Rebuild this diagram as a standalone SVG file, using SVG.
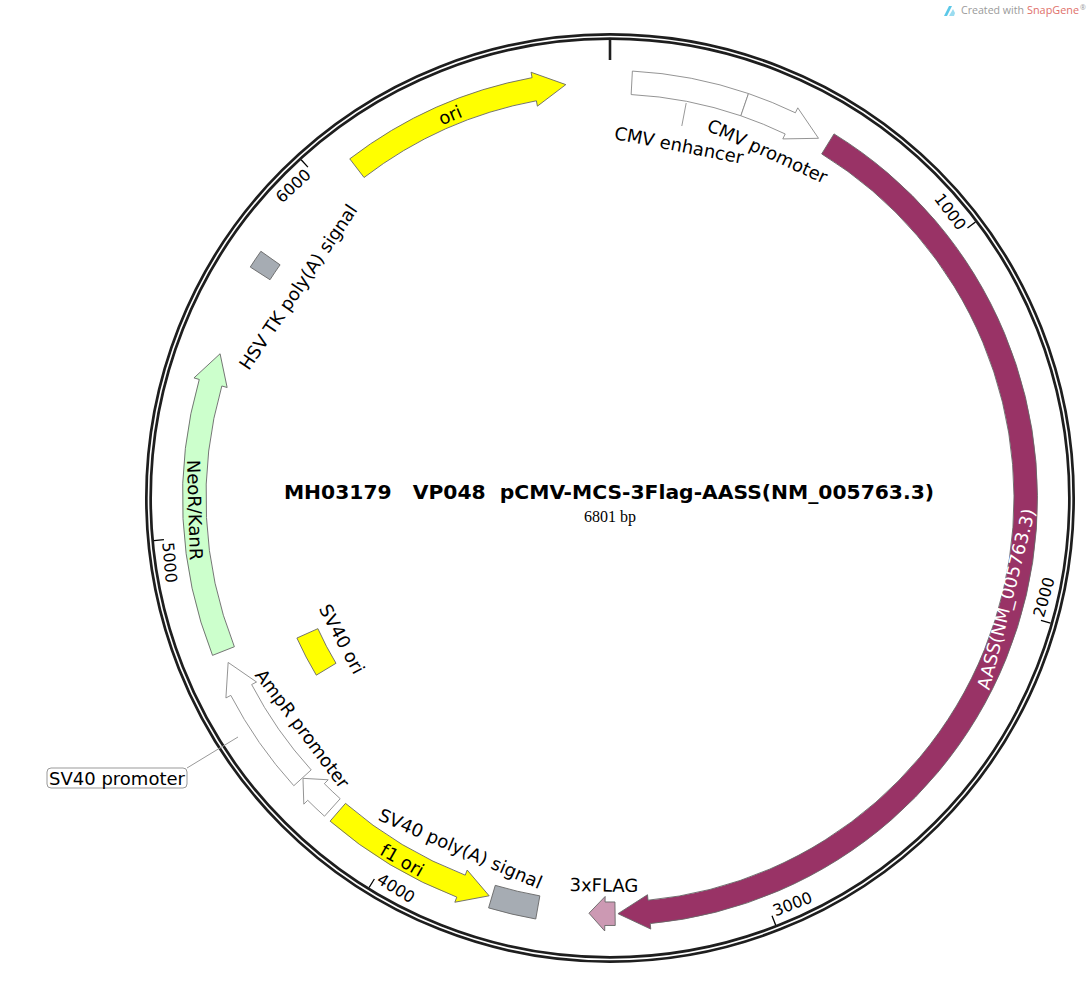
<svg xmlns="http://www.w3.org/2000/svg" width="1088" height="996" viewBox="0 0 1088 996">
<style>
.lbl{font-family:"DejaVu Sans","Liberation Sans",sans-serif;font-size:18px;fill:#000;}
.tk{font-family:"DejaVu Sans","Liberation Sans",sans-serif;font-size:16px;fill:#000;}
.wm{font-family:"Open Sans","DejaVu Sans",sans-serif;font-size:10.5px;}
.feat{stroke:#666;stroke-width:0.9;stroke-linejoin:miter;}
.white{fill:#fff;stroke:#888;stroke-width:0.9;}
.yellow{fill:#ffff00;}
.tick{stroke:#000;stroke-width:1.3;}
.lead{stroke:#999;stroke-width:1;fill:none;}
</style>
<rect width="1088" height="996" fill="#fff"/>

<g id="watermark">
<path d="M944,16 L949,6 L952,6 L947,16 Z" fill="#5bc8e8"/>
<path d="M949,16 L953,9 L955,13 L954,16 Z" fill="#9adcf0"/>
<text class="wm" x="961" y="14" textLength="63" lengthAdjust="spacingAndGlyphs" fill="#9a9a9a">Created with</text>
<text class="wm" x="1027" y="14" textLength="52" lengthAdjust="spacingAndGlyphs" fill="#e0706a">SnapGene</text>
<text class="wm" x="1080" y="10" font-size="7" fill="#9a9a9a" style="font-size:7px">®</text>
</g>

<g id="backbone">
<circle cx="610" cy="498" r="461.5" fill="none" stroke="#1e1e1e" stroke-width="7"/>
<circle cx="610" cy="498" r="461.5" fill="none" stroke="#fff" stroke-width="1.6"/>
<line x1="610" y1="40" x2="610" y2="60" stroke="#1e1e1e" stroke-width="2.6"/>
</g>

<g id="ticks">
<line class="tick" x1="975.46" y1="221.94" x2="967.48" y2="227.97"/>
<text class="tk" transform="translate(967.48,227.97) rotate(52.93)" x="-3" y="4" text-anchor="end" dominant-baseline="central">1000</text>
<line class="tick" x1="1050.55" y1="623.22" x2="1040.93" y2="620.48"/>
<text class="tk" transform="translate(1040.93,620.48) rotate(-74.13)" x="3" y="-3.5" dominant-baseline="central">2000</text>
<line class="tick" x1="775.62" y1="925.00" x2="772.01" y2="915.68"/>
<text class="tk" transform="translate(772.01,915.68) rotate(-21.2)" x="3" y="-3.5" dominant-baseline="central">3000</text>
<line class="tick" x1="369.11" y1="887.53" x2="374.37" y2="879.03"/>
<text class="tk" transform="translate(374.37,879.03) rotate(31.73)" x="3" y="-3.5" dominant-baseline="central">4000</text>
<line class="tick" x1="153.98" y1="540.57" x2="163.94" y2="539.64"/>
<text class="tk" transform="translate(163.94,539.64) rotate(84.67)" x="3" y="-3.5" dominant-baseline="central">5000</text>
<line class="tick" x1="301.17" y1="159.79" x2="307.91" y2="167.17"/>
<text class="tk" transform="translate(307.91,167.17) rotate(-42.4)" x="-3" y="4" text-anchor="end" dominant-baseline="central">6000</text>
</g>

<g id="connectors">
<line class="lead" x1="686.2" y1="103" x2="681.8" y2="126"/>
<line class="lead" x1="187" y1="768" x2="238" y2="737"/>
</g>

<g id="cmv-enhancer">
<path class="white" d="M632.38,71.09 A427.5,427.5 0 0 1 748.48,93.55 L740.86,115.78 A404,404 0 0 0 631.15,94.55 Z"/>
<text class="lbl" transform="translate(679,145) rotate(11)" text-anchor="middle" dominant-baseline="central">CMV enhancer</text>
</g>

<g id="cmv-promoter">
<path class="white" d="M748.48,93.55 A427.5,427.5 0 0 1 795.39,112.79 L797.77,107.83 L818.50,138.31 L782.81,138.92 L785.20,133.96 A404,404 0 0 0 740.86,115.78 Z"/>
<text class="lbl" transform="translate(767.5,151) rotate(24.5)" text-anchor="middle" dominant-baseline="central">CMV promoter</text>
</g>

<g id="aass">
<path class="feat" fill="#993366" stroke="#5a2040" d="M834.01,133.89 A427.5,427.5 0 0 1 650.23,923.60 L650.75,929.08 L617.98,913.68 L647.50,894.73 L648.02,900.21 A404,404 0 0 0 821.69,153.90 Z"/>
<text class="lbl" style="fill:#fff" transform="translate(1006,599) rotate(-75.7)" text-anchor="middle" dominant-baseline="central">AASS(NM_005763.3)</text>
</g>

<g id="flag">
<path class="feat" fill="#cc99b3" d="M615.22,925.47 L604.78,925.47 L604.71,930.97 L588.97,913.22 L605.13,896.47 L605.06,901.97 L614.94,901.97 Z"/>
<text class="lbl" transform="translate(604,885) rotate(0.9)" text-anchor="middle" dominant-baseline="central">3xFLAG</text>
</g>

<g id="sv40-polya">
<path class="feat" fill="#a6acb3" d="M535.76,919.01 A427.5,427.5 0 0 1 488.58,907.90 L495.26,885.36 A404,404 0 0 0 539.85,895.86 Z"/>
<text class="lbl" transform="translate(460.5,848.5) rotate(23.2)" text-anchor="middle" dominant-baseline="central">SV40 poly(A) signal</text>
</g>

<g id="f1-ori">
<path class="feat yellow" d="M330.10,821.13 A427.5,427.5 0 0 0 456.80,897.11 L454.83,902.24 L489.14,895.79 L467.19,870.03 L465.22,875.17 A404,404 0 0 1 345.49,803.36 Z"/>
<text class="lbl" transform="translate(402.3,860) rotate(29.8)" text-anchor="middle" dominant-baseline="central">f1 ori</text>
</g>

<g id="ampr-promoter">
<path class="white" d="M324.50,816.19 A427.5,427.5 0 0 1 307.71,800.29 L303.82,804.18 L302.99,778.34 L328.22,779.78 L324.33,783.67 A404,404 0 0 0 340.20,798.70 Z"/>
<text class="lbl" transform="translate(302.5,728.5) rotate(53.1)" text-anchor="middle" dominant-baseline="central">AmpR promoter</text>
</g>

<g id="sv40-promoter">
<path class="white" d="M293.81,785.71 A427.5,427.5 0 0 1 230.80,695.40 L225.92,697.94 L228.15,662.45 L256.53,682.01 L251.65,684.55 A404,404 0 0 0 311.19,769.90 Z"/>
<rect x="47" y="768" width="140" height="20" rx="4" ry="4" fill="#fff" stroke="#999" stroke-width="1"/>
<text class="lbl" x="117" y="778.5" text-anchor="middle" dominant-baseline="central">SV40 promoter</text>
</g>

<g id="sv40-ori">
<path class="feat yellow" d="M316.30,675.17 A343,343 0 0 1 296.90,638.06 L317.89,628.67 A320,320 0 0 0 335.99,663.29 Z"/>
<text class="lbl" transform="translate(342,639) rotate(62.1)" text-anchor="middle" dominant-baseline="central">SV40 ori</text>
</g>

<g id="neor">
<path class="feat" fill="#ccffcc" d="M212.52,655.37 A427.5,427.5 0 0 1 199.27,379.45 L193.98,377.92 L220.08,353.76 L227.13,387.49 L221.84,385.97 A404,404 0 0 0 234.37,646.72 Z"/>
<text class="lbl" transform="translate(195,510) rotate(88.3)" text-anchor="middle" dominant-baseline="central">NeoR/KanR</text>
</g>

<g id="hsv-tk-polya">
<path class="feat" fill="#a6acb3" d="M250.25,267.05 A427.5,427.5 0 0 1 260.89,251.27 L280.08,264.83 A404,404 0 0 0 270.03,279.74 Z"/>
<text class="lbl" transform="translate(298,287) rotate(-55.9)" text-anchor="middle" dominant-baseline="central">HSV TK poly(A) signal</text>
</g>

<g id="ori">
<path class="feat yellow" d="M349.76,158.84 A427.5,427.5 0 0 1 532.09,77.66 L531.09,72.25 L565.82,84.61 L537.38,106.17 L536.38,100.77 A404,404 0 0 0 364.06,177.49 Z"/>
<text class="lbl" transform="translate(450,115) rotate(-22.7)" text-anchor="middle" dominant-baseline="central">ori</text>
</g>

<g id="title">
<text x="609" y="499" text-anchor="middle" xml:space="preserve" style="white-space:pre" font-family="'DejaVu Sans','Liberation Sans',sans-serif" font-weight="bold" font-size="20.3" fill="#000">MH03179   VP048  pCMV-MCS-3Flag-AASS(NM_005763.3)</text>
<text x="610" y="522" text-anchor="middle" font-family="'Liberation Serif',serif" font-size="16" fill="#000">6801 bp</text>
</g>
</svg>
